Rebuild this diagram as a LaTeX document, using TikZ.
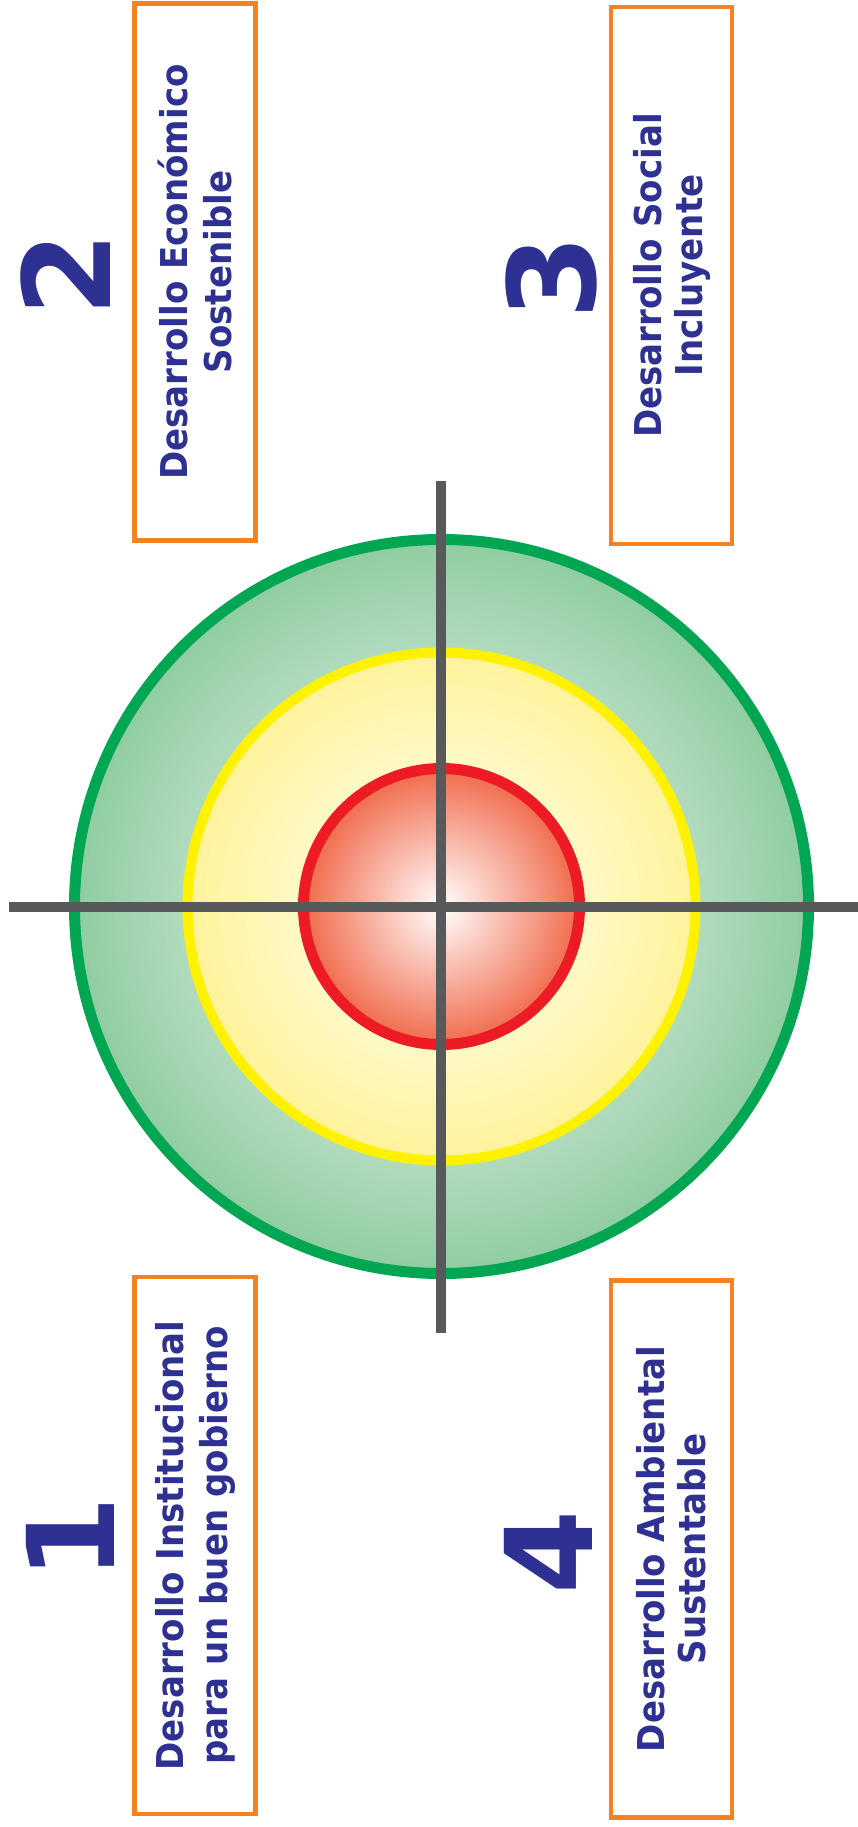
\documentclass[tikz,border=0pt]{standalone}
\usepackage{fontspec}
\setmainfont{DejaVu Sans}[FakeStretch=0.92]
\newfontfamily\digitfont{DejaVu Sans}
\definecolor{txtblue}{HTML}{2E3192}
\definecolor{boxorange}{HTML}{F58220}
\definecolor{ringgreen}{HTML}{00A651}
\definecolor{fillgreen}{HTML}{8FCCA1}
\definecolor{ringyellow}{HTML}{FFF200}
\definecolor{fillyellow}{HTML}{FEF39A}
\definecolor{ringred}{HTML}{ED1C24}
\definecolor{fillred}{HTML}{F06A4B}
\definecolor{axisgray}{HTML}{58595B}
\tikzset{
  labelbox/.style={draw=boxorange, line width=4.5pt, rotate=90, minimum width=537pt,
    minimum height=121pt, inner sep=0pt, align=center, text=txtblue},
  leftfont/.style={font=\fontsize{37}{44}\selectfont\bfseries},
  rightfont/.style={font=\fontsize{37}{41}\selectfont\bfseries},
  bignum/.style={rotate=90, inner sep=0pt, text=txtblue, font=\digitfont\fontsize{121}{121}\selectfont\bfseries},
  ring/.style={circle, inner sep=0pt, line width=11pt, shade, shading=radial, inner color=white},
  axis/.style={draw=axisgray, line width=10pt}
}
\begin{document}
\begin{tikzpicture}[x=1pt,y=-1pt]
\useasboundingbox (0,0) rectangle (858,1827);
% concentric circles
\node[ring, draw=ringgreen, outer color=fillgreen, minimum size=734pt] (outer) at (441.5,906.5) {};
\node[ring, draw=ringyellow, line width=10pt, outer color=fillyellow, minimum size=508pt] (middle) at (441.5,906.5) {};
\node[ring, draw=ringred, outer color=fillred, minimum size=276pt] (inner) at (441.5,906.5) {};
% axes
\coordinate (L) at (9,907);
\coordinate (R) at (858,907);
\coordinate (T) at (441,481);
\coordinate (B) at (441,1333);
\draw[axis] (L) -- (R);
\draw[axis] (T) -- (B);
% boxes
\node[labelbox, leftfont] (b2) at (195,272) {Desarrollo Económico\\Sostenible};
\node[labelbox, rightfont] (b3) at (671.5,275.5) {Desarrollo Social\\Incluyente};
\node[labelbox, leftfont] (b1) at (195,1545.5) {Desarrollo Institucional\\para un buen gobierno};
\node[labelbox, rightfont] (b4) at (671.5,1549) {Desarrollo Ambiental\\Sustentable};
% numbers
\node[bignum] (n2) at (66,274) {2};
\node[bignum] (n3) at (551,277) {3};
\node[bignum] (n1) at (70,1538.5) {1};
\node[bignum] (n4) at (548,1552) {4};
\end{tikzpicture}
\end{document}
